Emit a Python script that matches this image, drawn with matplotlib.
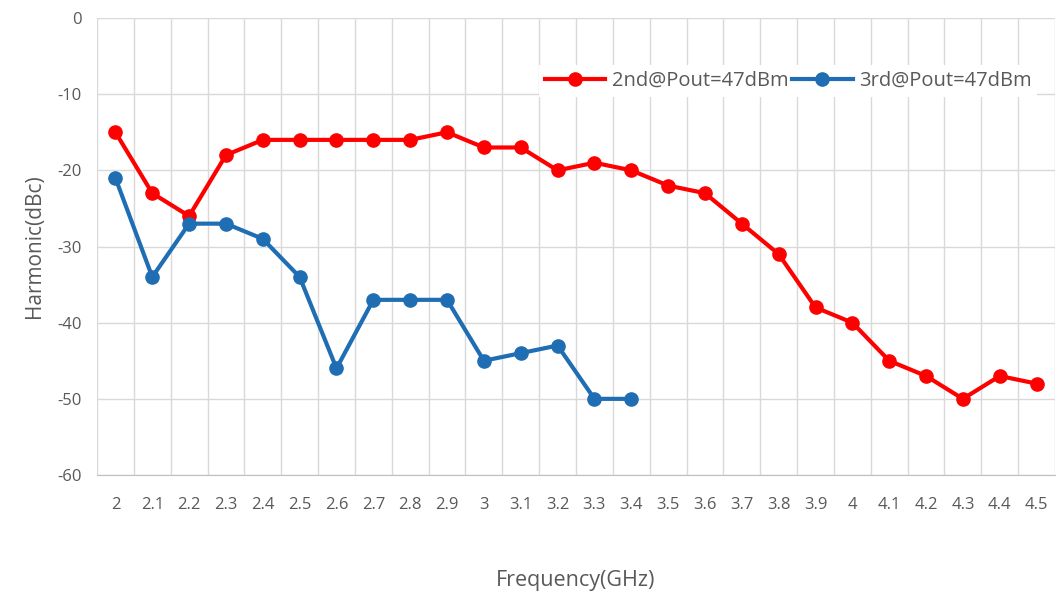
import numpy as np
import matplotlib
matplotlib.use('Agg')
import matplotlib.pyplot as plt

freqs = ['2', '2.1', '2.2', '2.3', '2.4', '2.5', '2.6', '2.7', '2.8', '2.9', '3',
         '3.1', '3.2', '3.3', '3.4', '3.5', '3.6', '3.7', '3.8', '3.9', '4',
         '4.1', '4.2', '4.3', '4.4', '4.5']
second = [-15, -23, -26, -18, -16, -16, -16, -16, -16, -15, -17,
          -17, -20, -19, -20, -22, -23, -27, -31, -38, -40,
          -45, -47, -50, -47, -48]
third = [-21, -34, -27, -27, -29, -34, -46, -37, -37, -37, -45,
         -44, -43, -50, -50]
labels = ['2nd@Pout=47dBm', '3rd@Pout=47dBm']

plt.rcParams['font.family'] = ['Open Sans', 'DejaVu Sans']
plt.rcParams['axes.unicode_minus'] = False
txt = '#595959'

fig = plt.figure(figsize=(10.6, 5.94), dpi=100)
ax = fig.add_axes([0.0915, 0.2003, 0.9038, 0.7694])

x = np.arange(len(freqs))
ax.plot(x, second, color='#FF0000', lw=3, marker='o', ms=9.5, label=labels[0], zorder=3)
ax.plot(x[:len(third)], third, color='#1F6DB3', lw=3, marker='o', ms=9.5, label=labels[1], zorder=3)

ax.set_xlim(-0.5, len(freqs) - 0.5)
ax.set_ylim(-60, 0)
ax.set_yticks(range(-60, 1, 10))
ax.set_xticks(x)
ax.set_xticklabels(freqs)
ax.set_xticks(np.arange(-0.5, len(freqs), 1), minor=True)
ax.tick_params(axis='both', which='both', length=0, colors=txt, labelsize=12)
ax.tick_params(axis='x', pad=16)
ax.tick_params(axis='y', pad=11)
ax.grid(True, axis='y', which='major', color='#D9D9D9', lw=1)
ax.grid(True, axis='x', which='minor', color='#D9D9D9', lw=1)
ax.grid(False, axis='x', which='major')
ax.set_axisbelow(True)
for s in ['top', 'right', 'left']:
    ax.spines[s].set_visible(False)
ax.spines['bottom'].set_color('#BFBFBF')

ax.set_xlabel('Frequency(GHz)', fontsize=15.5, color=txt, labelpad=41)
ax.set_ylabel('Harmonic(dBc)', fontsize=15, color=txt, labelpad=9)

leg = ax.legend(loc='upper right', bbox_to_anchor=(0.992, 0.92), ncol=2, frameon=True,
                fancybox=False, edgecolor='none', facecolor='white', framealpha=1,
                fontsize=14.5, handlelength=3.0, columnspacing=0.2, handletextpad=0.3,
                borderpad=0.3)
for t in leg.get_texts():
    t.set_color(txt)

fig.savefig('out.png', dpi=100)
